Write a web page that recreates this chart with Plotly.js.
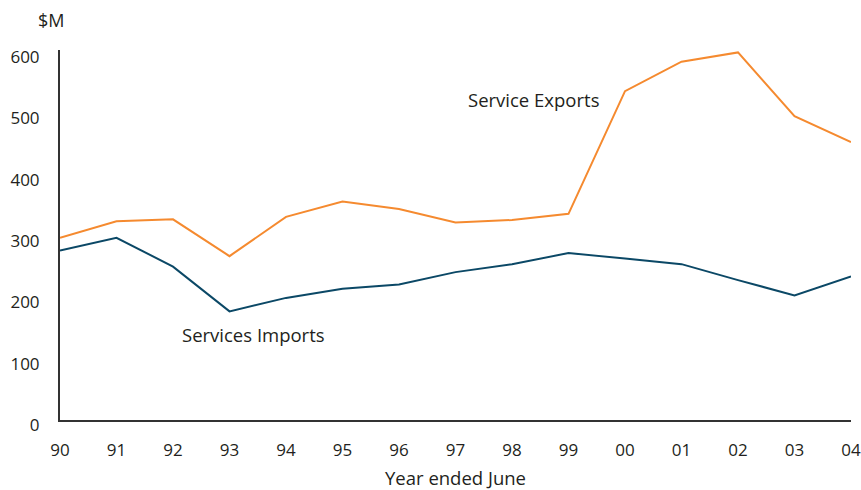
<!DOCTYPE html>
<html>
<head>
<meta charset="utf-8">
<script src="https://cdn.plot.ly/plotly-3.0.1.min.js"></script>
<style>html,body{margin:0;padding:0;background:#fff;}#chart{width:861px;height:490px;}</style>
</head>
<body>
<div id="chart"></div>
<script>
const years = ['90','91','92','93','94','95','96','97','98','99','00','01','02','03','04'];
const serviceExports = [297, 324, 327, 267, 331, 356, 344, 322, 326, 336, 536, 584, 599, 495, 453];
const serviceImports = [276, 297, 250, 177, 199, 214, 221, 241, 254, 272, 263, 254, 228, 203, 234];
const yTicks = [0, 100, 200, 300, 400, 500, 600];

const FONT = '"Open Sans", "Noto Sans", sans-serif';
const TXT = '#231f20';

const traces = [
  {x: years, y: serviceExports, type: 'scatter', mode: 'lines', name: 'Service Exports',
   line: {color: '#f58a2f', width: 2}},
  {x: years, y: serviceImports, type: 'scatter', mode: 'lines', name: 'Services Imports',
   line: {color: '#0b4866', width: 2}}
];

const layout = {
  width: 861, height: 490,
  margin: {l: 60, r: 10, t: 50, b: 70},
  paper_bgcolor: '#fff', plot_bgcolor: '#fff',
  showlegend: false,
  font: {family: FONT, size: 17, color: TXT},
  xaxis: {
    type: 'category', range: [0, 14], showgrid: false, zeroline: false,
    showline: true, linecolor: '#333', linewidth: 2, ticks: '',
    ticklabelstandoff: 14, tickfont: {family: FONT, size: 17, color: TXT},
    title: {text: 'Year ended June', font: {family: FONT, size: 18.5, color: TXT}, standoff: 13},
    fixedrange: true
  },
  yaxis: {
    range: [0, 603], showgrid: false, zeroline: false,
    showline: true, linecolor: '#333', linewidth: 2, ticks: '',
    tickvals: yTicks, ticktext: yTicks.map(String),
    ticklabelstandoff: 15, ticklabelshift: 5, tickfont: {family: FONT, size: 17, color: TXT},
    fixedrange: true
  },
  annotations: [
    {text: '$M', xref: 'paper', yref: 'paper', x: -0.012, y: 1.0, yshift: 30,
     showarrow: false, xanchor: 'center', yanchor: 'middle', font: {family: FONT, size: 18, color: TXT}},
    {text: 'Service Exports', xref: 'x', yref: 'y', x: 8.38, y: 522,
     showarrow: false, xanchor: 'center', yanchor: 'middle', font: {family: FONT, size: 18.5, color: TXT}},
    {text: 'Services Imports', xref: 'x', yref: 'y', x: 3.42, y: 140,
     showarrow: false, xanchor: 'center', yanchor: 'middle', font: {family: FONT, size: 18.5, color: TXT}}
  ]
};

Plotly.newPlot('chart', traces, layout, {displayModeBar: false, staticPlot: true});
</script>
</body>
</html>
